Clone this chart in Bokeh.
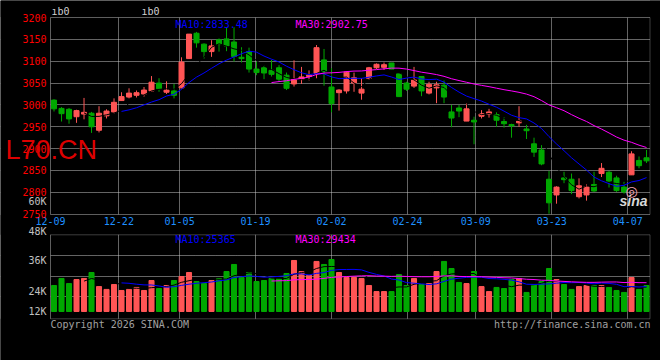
import numpy as np
import pandas as pd
from bokeh.plotting import figure
from bokeh.models import ColumnDataSource, Range1d, FixedTicker, Label, BoxAnnotation, Grid
from bokeh.embed import file_html
from bokeh.resources import INLINE

# ---------------- data ----------------
date_labels = ["12-09", "12-22", "01-05", "01-19", "02-02", "02-24", "03-09", "03-23", "04-07"]
date_index = [0, 9, 17, 27, 37, 47, 56, 66, 76]

open_ = [3011, 2992, 2990, 2973, 2979, 2981, 2942, 2975, 2984, 3010,
         3018, 3022, 3025, 3032, 3050, 3029, 3032, 3039, 3106, 3164,
         3139, 3122, 3149, 3151, 3144, 3109, 3122, 3082, 3085, 3079,
         3085, 3068, 3048, 3058, 3065, 3072, 3103, 3041, 3028, 3032,
         3050, 3027, 3061, 3085, 3086, 3096, 3071, 3050, 3043, 3065,
         3027, 3039, 3045, 2984, 2993, 2963, 2965, 2974, 2979, 2978,
         2962, 2955, 2959, 2945, 2911, 2897, 2830, 2794, 2833, 2830,
         2790, 2794, 2818, 2843, 2846, 2833, 2812, 2840, 2873, 2879]
high = [3013, 2995, 2993, 2989, 3016, 2984, 2997, 2990, 3015, 3029,
        3038, 3033, 3041, 3066, 3061, 3054, 3048, 3109, 3162, 3167,
        3141, 3148, 3152, 3178, 3178, 3132, 3131, 3099, 3090, 3103,
        3091, 3074, 3102, 3087, 3079, 3137, 3128, 3084, 3036, 3077,
        3074, 3061, 3087, 3095, 3097, 3096, 3071, 3053, 3087, 3066,
        3053, 3053, 3056, 3000, 3000, 3004, 2973, 2988, 2991, 2983,
        2972, 2957, 2997, 2955, 2925, 2908, 2849, 2814, 2847, 2843,
        2832, 2818, 2847, 2867, 2849, 2838, 2824, 2894, 2882, 2897]
low = [2985, 2962, 2957, 2959, 2967, 2936, 2937, 2969, 2980, 3009,
       3015, 3017, 3019, 3031, 3030, 3025, 3015, 3038, 3105, 3131,
       3106, 3110, 3122, 3123, 3099, 3097, 3074, 3068, 3059, 3065,
       3053, 3034, 3042, 3048, 3056, 3061, 3044, 2983, 2987, 3026,
       3030, 3012, 3057, 3082, 3080, 3082, 3019, 3032, 3039, 3020,
       3024, 3004, 3004, 2949, 2972, 2963, 2910, 2969, 2971, 2950,
       2948, 2925, 2950, 2922, 2881, 2862, 2751, 2774, 2821, 2796,
       2786, 2781, 2801, 2835, 2811, 2801, 2797, 2840, 2855, 2867]
close = [2991, 2980, 2968, 2987, 2983, 2950, 2981, 2986, 3006, 3019,
         3027, 3028, 3034, 3052, 3037, 3034, 3022, 3098, 3162, 3142,
         3122, 3135, 3138, 3135, 3111, 3106, 3082, 3074, 3073, 3070,
         3059, 3038, 3058, 3064, 3068, 3131, 3076, 3003, 3034, 3075,
         3062, 3036, 3085, 3093, 3092, 3082, 3019, 3036, 3057, 3032,
         3047, 3046, 3018, 2970, 2986, 2991, 2961, 2980, 2984, 2965,
         2957, 2952, 2963, 2941, 2892, 2865, 2776, 2812, 2829, 2804,
         2815, 2813, 2803, 2855, 2826, 2804, 2801, 2888, 2861, 2872]
volume = [26600, 33800, 28600, 32700, 33800, 39900, 25500, 22600, 27600, 21500,
          22600, 24600, 21500, 31700, 23500, 26600, 31700, 35800, 39900, 30700,
          28600, 31700, 33800, 40900, 48100, 34800, 39900, 30700, 31700, 33800,
          33800, 38900, 52200, 40900, 36900, 51200, 48100, 53200, 39900, 34800,
          34800, 33800, 26600, 20400, 20400, 20400, 37800, 26600, 33800, 27600,
          28600, 40900, 51200, 44000, 29700, 28600, 40900, 25500, 20400, 24600,
          23500, 32700, 33800, 19500, 27600, 30700, 44000, 32700, 27600, 22600,
          25500, 26600, 26600, 26600, 24600, 21500, 19500, 34800, 22600, 26600]

price_ticks = [2750, 2800, 2850, 2900, 2950, 3000, 3050, 3100, 3150, 3200]
vol_grid_values = [15000, 36000, 57000]
vol_tick_texts = ["60K", "48K", "36K", "24K", "12K"]
price_legend = ["MA10:2833.48", "MA30:2902.75"]
vol_legend = ["MA10:25365", "MA30:29434"]

# ---------------- styling / layout constants ----------------
UP = "#ff5555"
DOWN = "#00a800"
GRID = "#c8c8c8"
MONO = "DejaVu Sans Mono"
W, H = 660, 360
SLOTS = 80
PX_PER_SLOT = 7.5
LEFT, RIGHT = 50, 649.5            # panel edges (px from left)
P_TOP, P_BOT = 17, 214             # price panel (px from top)
V_TOP, V_BOT = 234.3, 318.3        # volume panel (px from top)
PRICE_PER_PX = 2.2878
VOL_PER_PX = 1023
VOL_BASE_PX = 311


def sy(py):
    """px-from-top -> Bokeh screen units (measured up from the frame bottom)."""
    return H - py


n = len(close)
x = np.arange(n) + 0.47
colors = [UP if c >= o else DOWN for o, c in zip(open_, close)]
cs = pd.Series(close, dtype=float)
vs = pd.Series(volume, dtype=float)
src = ColumnDataSource(dict(
    x=x, high=high, low=low,
    top=np.maximum(open_, close), bottom=np.minimum(open_, close),
    color=colors, volume=volume,
    ma5=cs.rolling(5).mean(), ma10=cs.rolling(10).mean(), ma30=cs.rolling(30).mean(),
    vma5=vs.rolling(5).mean(), vma10=vs.rolling(10).mean(), vma30=vs.rolling(30).mean(),
))

x_start = -LEFT / PX_PER_SLOT
x_end = x_start + W / PX_PER_SLOT
y_end = 3200 + P_TOP * PRICE_PER_PX
y_start = y_end - H * PRICE_PER_PX
v_end = VOL_BASE_PX * VOL_PER_PX
v_start = v_end - H * VOL_PER_PX
price_floor = y_end - P_BOT * PRICE_PER_PX

p = figure(width=W, height=H, x_range=Range1d(x_start, x_end), y_range=Range1d(y_start, y_end),
           output_backend="svg", toolbar_location=None, min_border=0,
           background_fill_color="black", border_fill_color="black", outline_line_color=None)
p.title.visible = False
p.extra_y_ranges = {"vol": Range1d(v_start, v_end)}

# the date grid of the original is spaced on 79 steps across the frame
xticks = [k * SLOTS / (SLOTS - 1) for k in date_index]

# ---- axes (drawn at fixed positions at the panel edges) ----
p.yaxis.fixed_location = 0
p.yaxis.ticker = FixedTicker(ticks=price_ticks)
p.xaxis.fixed_location = price_floor
p.xaxis.ticker = FixedTicker(ticks=xticks)
p.xaxis.major_label_overrides = {t: lab for t, lab in zip(xticks, date_labels)}
for ax in (p.xaxis, p.yaxis):
    ax.axis_line_color = None
    ax.major_tick_line_color = None
    ax.minor_tick_line_color = None
    ax.major_tick_out = 0
    ax.major_tick_in = 0
    ax.minor_tick_out = 0
    ax.minor_tick_in = 0
    ax.major_label_text_font = MONO
    ax.major_label_text_font_size = "10px"
p.yaxis.major_label_text_color = "#ff0000"
p.yaxis.major_label_standoff = 4
p.xaxis.major_label_text_color = "#1e90ff"
p.xaxis.major_label_standoff = 2

# ---- grids ----
p.xgrid.ticker = FixedTicker(ticks=xticks)
p.ygrid.ticker = FixedTicker(ticks=price_ticks)
vgrid = Grid(dimension=1, ticker=FixedTicker(ticks=vol_grid_values), y_range_name="vol")
p.add_layout(vgrid, "center")
for g in (p.xgrid, p.ygrid, vgrid):
    g.grid_line_color = GRID
    g.grid_line_dash = "1 1"
    g.grid_line_width = 1


def box(l, r, t, b, **kw):
    p.add_layout(BoxAnnotation(left=l, right=r, top=sy(t), bottom=sy(b),
                               left_units="screen", right_units="screen",
                               top_units="screen", bottom_units="screen",
                               level="underlay", **kw))


# black margins so that the grid only shows inside the two panels
for l, r, t, b in [(0, LEFT, 0, H), (RIGHT, W, 0, H), (0, W, 0, P_TOP),
                   (0, W, P_BOT, V_TOP), (0, W, V_BOT, H)]:
    box(l, r, t, b, fill_color="black", fill_alpha=1, line_color=None)
# panel frames
for t, b in [(P_TOP, P_BOT), (V_TOP, V_BOT)]:
    box(LEFT, RIGHT, t, b, fill_alpha=0, line_color=GRID, line_width=1)

# ---- price panel ----
p.segment(x0="x", y0="high", x1="x", y1="low", color="color", line_width=1, source=src)
p.vbar(x="x", width=0.67, top="top", bottom="bottom", fill_color="color",
       line_color="color", line_width=1, source=src)
p.line("x", "ma5", color="black", line_width=1, source=src)
p.line("x", "ma10", color="#0000ff", line_width=1, source=src)
p.line("x", "ma30", color="#ff00ff", line_width=1, source=src)

# ---- volume panel ----
p.vbar(x="x", width=0.67, top="volume", bottom=0, fill_color="color",
       line_color="color", line_width=1, source=src, y_range_name="vol")
p.line("x", "vma5", color="black", line_width=1, source=src, y_range_name="vol")
p.line("x", "vma10", color="#0000ff", line_width=1, source=src, y_range_name="vol")
p.line("x", "vma30", color="#ff00ff", line_width=1, source=src, y_range_name="vol")


def add_label(text, xpx, ypx, color, align="left", font=MONO, size="10px", style="normal"):
    p.add_layout(Label(x=xpx, y=sy(ypx), x_units="screen", y_units="screen", text=text,
                       text_color=color, text_font=font, text_font_size=size,
                       text_font_style=style, text_align=align, text_baseline="middle"))


add_label(price_legend[0], 175, 23.7, "#0000ff")
add_label(price_legend[1], 295, 23.7, "#ff00ff")
add_label("ıb0", 51, 11, "#d0d0d0")
add_label("ıb0", 141, 11, "#d0d0d0")
for txt, ypx in zip(vol_tick_texts, [200.5, 230.7, 260.3, 291, 311.3]):
    add_label(txt, 46, ypx, "#c0c0c0", align="right")
add_label(vol_legend[0], 175, 239, "#0000ff")
add_label(vol_legend[1], 295, 239, "#ff00ff")
add_label("Copyright 2026 SINA.COM", 50, 324, "#a0a0a0")
add_label("http://finance.sina.com.cn", 650, 324, "#a0a0a0", align="right")
add_label("L70.CN", 5, 149, "#dd0000", font="Liberation Sans", size="27px")
add_label("◎", 631, 190, "#f4a0b0", align="center", font="DejaVu Sans", size="14px")
add_label("sina", 619, 200.5, "#d8d8d8", font="Liberation Sans", size="14px", style="bold italic")

open("out.html", "w").write(file_html(p, INLINE))
